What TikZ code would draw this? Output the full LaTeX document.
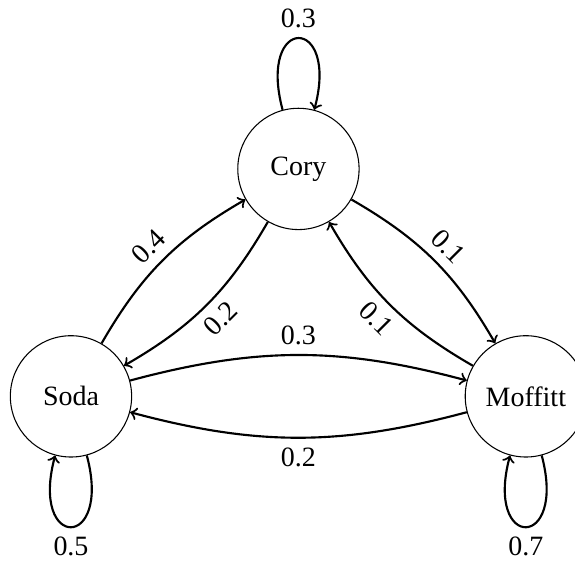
\documentclass[tikz,border=0pt]{standalone}
\usepackage{fontspec}
\setmainfont{Liberation Serif}
\begin{document}
\begin{tikzpicture}[
  state/.style={circle,draw,line width=0.4pt,minimum size=1.6cm,inner sep=1pt,font=\fontsize{10.5}{12.5}\selectfont},
  trans/.style={->,thick,bend left=15},
  loopedge/.style={->,thick},
  lab/.style={sloped,font=\fontsize{10.5}{12.5}\selectfont},
  looplab/.style={font=\fontsize{10.5}{12.5}\selectfont}
]
\useasboundingbox (-112pt,-147.1pt) rectangle (103.8pt,63.4pt);
\node[state] (C) at (0,0) {Cory};
\node[state] (S) at (-3,-3) {Soda};
\node[state] (M) at (3,-3) {Moffitt};
\draw[loopedge] (C) to[loop above] node[looplab,above] {0.3} (C);
\draw[loopedge] (S) to[loop below] node[looplab,below] {0.5} (S);
\draw[loopedge] (M) to[loop below] node[looplab,below] {0.7} (M);
\draw[trans] (S) to node[lab,above] {0.4} (C);
\draw[trans] (C) to node[lab,below] {0.2} (S);
\draw[trans] (C) to node[lab,above] {0.1} (M);
\draw[trans] (M) to node[lab,below] {0.1} (C);
\draw[trans] (S) to node[lab,above] {0.3} (M);
\draw[trans] (M) to node[lab,below] {0.2} (S);
\end{tikzpicture}
\end{document}
